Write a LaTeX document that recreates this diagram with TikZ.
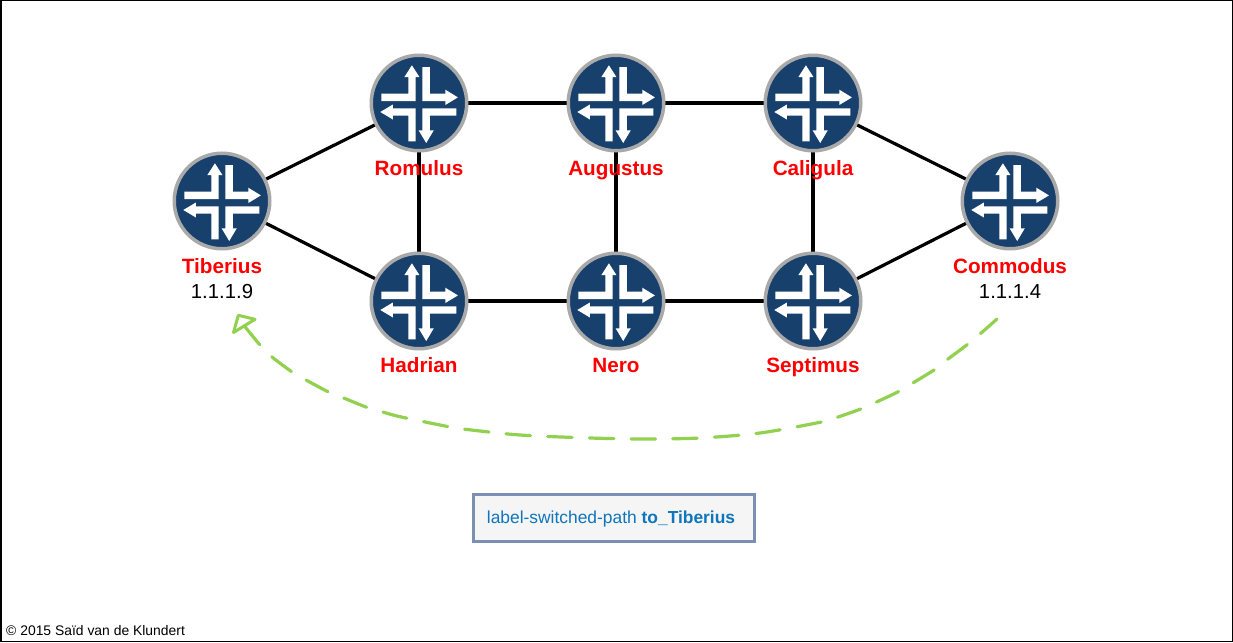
\documentclass[tikz,border=0pt]{standalone}
\usepackage{fontspec}
\setmainfont{Liberation Sans}
\definecolor{rblue}{HTML}{17406D}
\definecolor{rgray}{HTML}{A9A9A9}
\definecolor{lspgreen}{HTML}{92D050}
\definecolor{lspblue}{HTML}{0F75BC}
\definecolor{boxedge}{HTML}{7B8FB5}
\definecolor{boxfill}{HTML}{F5F5F6}
\newcommand{\routericon}[1]{%
  \begin{scope}[shift={(#1)},xshift=-0.4pt,x=1pt,y=-1pt]
    \fill[white] (-37.3,-9.3) -- (-10.2,-9.3) -- (-10.2,-26) -- (-14.2,-26) -- (-6.7,-37.7) -- (0.8,-26) -- (-3,-26) -- (-3,-1.8) -- (-37.3,-1.8) -- cycle;
    \fill[white] (3.8,-36) -- (11.3,-36) -- (11.3,-9.3) -- (26.7,-9.3) -- (26.7,-13.3) -- (39.3,-5.6) -- (26.7,2) -- (26.7,-1.8) -- (3.8,-1.8) -- cycle;
    \fill[white] (-10.2,12.7) -- (-10.2,38.3) -- (-3,38.3) -- (-3,5.3) -- (-25.7,5.3) -- (-25.7,1.5) -- (-38.3,9) -- (-25.7,16.5) -- (-25.7,12.7) -- cycle;
    \fill[white] (3.8,5.3) -- (37.7,5.3) -- (37.7,12.7) -- (11.3,12.7) -- (11.3,27.3) -- (15.2,27.3) -- (7.6,40) -- (0,27.3) -- (3.8,27.3) -- cycle;
  \end{scope}}
\tikzset{
  router/.style={circle,draw=rgray,fill=rblue,line width=3.5pt,minimum size=95.5pt,inner sep=0pt},
  link/.style={draw=black,line width=3.2pt},
  rname/.style={text=red,font=\fontsize{20.7}{24}\selectfont\bfseries,inner sep=0pt,anchor=base},
  raddr/.style={text=black,font=\fontsize{20.3}{24}\selectfont,inner sep=0pt,anchor=base},
}
\begin{document}
\begin{tikzpicture}[x=1pt,y=-1pt]
\useasboundingbox (0,0) rectangle (1233,642);
\fill[white] (0,0) rectangle (1233,642);
\node[draw=black,line width=1.5pt,minimum width=1231.5pt,minimum height=640.5pt,inner sep=0pt] (frame) at (616.5,321) {};
\coordinate (ptib) at (222,201);
\coordinate (prom) at (419,103);
\coordinate (paug) at (616,103);
\coordinate (pcal) at (813,103);
\coordinate (pcom) at (1010,201);
\coordinate (phad) at (419,301);
\coordinate (pner) at (616,301);
\coordinate (psep) at (813,301);
\draw[link] (ptib) -- (prom);
\draw[link] (ptib) -- (phad);
\draw[link] (prom) -- (paug);
\draw[link] (paug) -- (pcal);
\draw[link] (pcal) -- (pcom);
\draw[link] (phad) -- (pner);
\draw[link] (pner) -- (psep);
\draw[link] (psep) -- (pcom);
\draw[link] (prom) -- (phad);
\draw[link] (paug) -- (pner);
\draw[link] (pcal) -- (psep);
\node[router] (tib) at (ptib) {};
\node[router] (rom) at (prom) {};
\node[router] (aug) at (paug) {};
\node[router] (cal) at (pcal) {};
\node[router] (com) at (pcom) {};
\node[router] (had) at (phad) {};
\node[router] (ner) at (pner) {};
\node[router] (sep) at (psep) {};
\routericon{tib}\routericon{rom}\routericon{aug}\routericon{cal}\routericon{com}\routericon{had}\routericon{ner}\routericon{sep}
\node[rname] (tibl) at (222,273) {Tiberius};
\node[raddr] (tiba) at (222,298) {1.1.1.9};
\node[rname] (roml) at (419,175) {Romulus};
\node[rname] (augl) at (616,175) {Augustus};
\node[rname] (call) at (813,175) {Caligula};
\node[rname] (coml) at (1010,273) {Commodus};
\node[raddr] (coma) at (1010,298) {1.1.1.4};
\node[rname] (hadl) at (419,372) {Hadrian};
\node[rname] (nerl) at (616,372) {Nero};
\node[rname] (sepl) at (813,372) {Septimus};
\coordinate (lspa) at (997,319);
\coordinate (lspb) at (245,326.7);
\draw[lspgreen,line width=3.2pt,dash pattern=on 24.5pt off 17.2pt,dash phase=2.5pt,line cap=round]
  plot[smooth,tension=0.5] coordinates {(lspa) (980,334) (966.7,345) (946.7,360) (934,370) (912.3,383.3) (898.3,391.7) (875,402.7) (860.7,409) (836,417.7) (820,422.3) (760,433) (700,438) (643,439) (590,438) (520,435) (463,429) (445,426) (400,416.7) (381.7,411.7) (366.7,407.3) (343,397.7) (328,391.7) (306,380) (291.7,371.7) (271.7,356.7) (260,345) (lspb)};
\fill[white,draw=lspgreen,line width=3pt,line join=round] (238.3,315.3) -- (255,319.3) -- (233.5,332.5) -- cycle;
\node[draw=boxedge,fill=boxfill,line width=2.2pt,minimum width=281pt,minimum height=47pt,inner sep=0pt] (lsp) at (614,518) {};
\node[text=lspblue,font=\fontsize{17.4}{20}\selectfont,inner sep=0pt] (lsptext) at (611,519) {label-switched-path \textbf{to\_Tiberius}};
\node[font=\fontsize{13.9}{15}\selectfont,inner sep=0pt,anchor=base west] (copy) at (6,635) {© 2015 Saïd van de Klundert};
\end{tikzpicture}
\end{document}
